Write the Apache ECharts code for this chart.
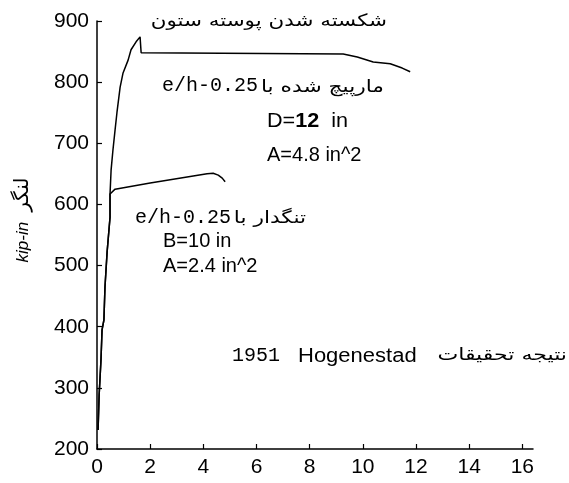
<!DOCTYPE html>
<html>
<head>
<meta charset="utf-8">
<script src="https://cdn.jsdelivr.net/npm/echarts@6/dist/echarts.min.js"></script>
<style>
html,body{margin:0;padding:0;background:#fff;}
#chart{width:569px;height:483px;}
</style>
</head>
<body>
<div id="chart"></div>
<script>
// x: curvature-like quantity (0..16), y: moment (kip-in)
const xTicks = [0, 2, 4, 6, 8, 10, 12, 14, 16];
const yTicks = [200, 300, 400, 500, 600, 700, 800, 900];

// Spiral column (e/h = 0.25, D = 12 in, A = 4.8 in^2)
const spiralX = [0.04, 0.08, 0.15, 0.19, 0.26, 0.30, 0.38, 0.49, 0.49, 0.53, 0.60, 0.68, 0.75, 0.87, 0.98, 1.17, 1.28, 1.47, 1.62, 1.66, 9.26, 9.79, 10.39, 11.03, 11.48, 11.78];
const spiralY = [231, 288, 346, 395, 411, 465, 522, 579, 617, 656, 689, 722, 750, 792, 815, 836, 853, 866, 874, 848, 846, 841, 833, 830, 823, 817];

// Tied column (e/h = 0.25, B = 10 in, A = 2.4 in^2)
const tiedX = [0.04, 0.08, 0.15, 0.19, 0.26, 0.30, 0.38, 0.49, 0.49, 0.68, 2.0, 4.14, 4.37, 4.56, 4.71, 4.82];
const tiedY = [231, 288, 346, 395, 411, 465, 522, 579, 617, 625, 635, 650, 651, 648, 643, 637];

const yAxisName = ['kip-in', 'لنگر'];
const spiralLabel = ['e/h-0.25', 'مارپیچ شده با', 'D=', '12', 'in', 'A=4.8 in^2'];
const tiedLabel = ['e/h-0.25', 'تنگدار با', 'B=10 in', 'A=2.4 in^2'];
const topLabel = 'شکسته شدن پوسته ستون';
const sourceLabel = ['1951', 'Hogenestad', 'نتیجه تحقیقات'];

const zip = (xs, ys) => xs.map((x, i) => [x, ys[i]]);

const chart = echarts.init(document.getElementById('chart'));
const sans = 'Liberation Sans, Arial, sans-serif';
const mono = 'Liberation Mono, Courier New, monospace';
const arab = 'DejaVu Sans, sans-serif';

function txt(x, y, text, font, size, align, sx) {
  return {
    type: 'text', x: x, y: y, silent: true, scaleX: sx || 1,
    style: { text: text, fontFamily: font, fontSize: size, fill: '#000', align: align || 'left', verticalAlign: 'middle' }
  };
}

chart.setOption({
  animation: false,
  backgroundColor: '#fff',
  grid: { left: 97, right: 36, top: 21, bottom: 34, containLabel: false },
  xAxis: {
    type: 'value', min: 0, max: 16.4, interval: 2,
    axisLine: { show: true, onZero: false, lineStyle: { color: '#000', width: 1.5 } },
    axisTick: { show: true, inside: true, length: 5, customValues: xTicks, lineStyle: { color: '#000', width: 1.2 } },
    splitLine: { show: false },
    axisLabel: {
      color: '#000', fontFamily: sans, fontSize: 21, margin: 8,
      customValues: xTicks, hideOverlap: false
    }
  },
  yAxis: {
    type: 'value', min: 200, max: 900, interval: 100,
    name: '{i|' + yAxisName[0] + '}   {a|' + yAxisName[1] + '}',
    nameLocation: 'middle', nameGap: 64, nameRotate: 90,
    nameTextStyle: {
      padding: [0, 0, 0, 30],
      rich: {
        i: { fontFamily: sans, fontStyle: 'italic', fontSize: 17, color: '#000' },
        a: { fontFamily: arab, fontSize: 20, color: '#000' }
      }
    },
    axisLine: { show: true, onZero: false, lineStyle: { color: '#000', width: 1.5 } },
    axisTick: { show: true, inside: true, length: 5, lineStyle: { color: '#000', width: 1.2 } },
    splitLine: { show: false },
    axisLabel: { color: '#000', fontFamily: sans, fontSize: 21, margin: 8, customValues: yTicks }
  },
  series: [
    { type: 'line', data: zip(spiralX, spiralY), showSymbol: false, smooth: false,
      lineStyle: { color: '#000', width: 1.5 } },
    { type: 'line', data: zip(tiedX, tiedY), showSymbol: false, smooth: false,
      lineStyle: { color: '#000', width: 1.5 } }
  ],
  graphic: [
    txt(387, 22, topLabel, arab, 17, 'right', 1.26),
    txt(162, 86, spiralLabel[0], mono, 20, 'left'),
    txt(384, 88, spiralLabel[1], arab, 17, 'right', 1.28),
    {
      type: 'text', x: 267, y: 121, silent: true, scaleX: 1.08,
      style: {
        text: '{n|' + spiralLabel[2] + '}{b|' + spiralLabel[3] + '}{n|  ' + spiralLabel[4] + '}',
        verticalAlign: 'middle',
        rich: {
          n: { fontFamily: sans, fontSize: 20, color: '#000' },
          b: { fontFamily: sans, fontSize: 20, fontWeight: 'bold', color: '#000' }
        }
      }
    },
    txt(267, 155, spiralLabel[5], sans, 20, 'left'),
    txt(135, 218, tiedLabel[0], mono, 20, 'left'),
    txt(306, 219, tiedLabel[1], arab, 17, 'right', 1.28),
    txt(163, 241, tiedLabel[2], sans, 20, 'left'),
    txt(163, 266, tiedLabel[3], sans, 20, 'left'),
    txt(232, 356, sourceLabel[0], mono, 20, 'left'),
    txt(298, 356, sourceLabel[1], sans, 20, 'left', 1.1),
    txt(567, 356, sourceLabel[2], arab, 17, 'right', 1.3)
  ]
});
</script>
</body>
</html>
